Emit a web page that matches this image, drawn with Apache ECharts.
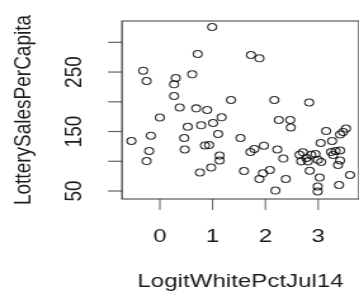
<!DOCTYPE html>
<html>
<head>
<meta charset="utf-8">
<script src="https://cdn.jsdelivr.net/npm/echarts@6/dist/echarts.min.js"></script>
<style>
  html, body { margin: 0; padding: 0; background: #fff; overflow: hidden; }
  /* the reference is an R plot stretched sideways, so the chart is drawn narrow and widened */
  #chart { width: 283px; height: 301px; transform: scaleX(1.26855); transform-origin: 0 0; }
</style>
</head>
<body>
<div id="chart"></div>
<script>
var logitWhite = [
  -0.315, -0.251, 0.302, 0.270, 0.613, 0.270, 0.717, 0.377, 0.689, 0.991,
  0.896, 1.349, 1.726, 1.887, 2.170, 2.830, 0.000, -0.538, -0.170, -0.202,
  -0.251, 0.528, 0.783, 1.009, 1.170, 0.462, 0.472, 0.855, 0.934, 1.104,
  1.132, 1.132, 0.972, 0.760, 1.528, 1.717, 1.792, 1.972, 2.226, 2.255,
  2.472, 2.481, 2.340, 1.594, 1.887, 1.953, 2.085, 2.189, 2.387, 2.647,
  2.711, 2.774, 2.868, 2.949, 2.679, 2.806, 2.994, 3.057, 2.840, 3.028,
  2.991, 2.991, 3.047, 3.264, 3.151, 3.528, 3.472, 3.415, 3.245, 3.330,
  3.415, 3.283, 3.415, 3.377, 3.396, 3.604
];
var salesPerCapita = [
  252.3, 234.9, 240.0, 229.4, 246.2, 209.7, 280.3, 190.4, 189.0, 325.7,
  186.2, 203.0, 278.6, 273.1, 203.0, 198.8, 173.6, 134.1, 143.0, 117.3,
  100.4, 158.1, 160.5, 164.3, 173.9, 139.1, 119.8, 126.5, 127.3, 145.8,
  109.7, 101.3, 89.5, 81.1, 139.1, 115.6, 120.6, 126.2, 119.8, 169.4,
  169.4, 156.8, 104.6, 83.6, 70.2, 79.8, 85.3, 50.8, 70.2, 111.0,
  115.1, 105.5, 111.0, 112.2, 99.9, 99.9, 102.6, 98.8, 84.1, 72.7,
  57.6, 49.2, 130.7, 134.1, 150.9, 155.1, 149.2, 145.0, 115.6, 117.3,
  118.1, 110.5, 101.3, 93.7, 60.1, 76.9
];
var xRange = [-0.717, 3.774];
var yRange = [36.6, 335.8];
var xTicks = [0, 1, 2, 3];
var yTicks = [50, 100, 150, 200, 250, 300];
var yLabels = [50, 150, 250];

var points = logitWhite.map(function(x, i) {
  return [x, salesPerCapita[i]];
});
// tick marks sit on the box edges, drawn as thin rects through the axes' own scales
var xTickMarks = xTicks.map(function(v) { return [v, yRange[0]]; });
var yTickMarks = yTicks.map(function(v) { return [xRange[0], v]; });

var ink = '#1c1c1c';
var edge = '#3a3a3a';
var font = 'Liberation Sans, Arial, sans-serif';
var tickLen = 11;

var chart = echarts.init(document.getElementById('chart'), null, { renderer: 'canvas' });
chart.setOption({
  backgroundColor: '#fff',
  animation: false,
  grid: {
    left: 96.17,
    right: -0.8,
    top: 21,
    bottom: 102,
    show: true,
    borderColor: edge,
    borderWidth: 1.2,
    backgroundColor: 'transparent'
  },
  xAxis: {
    type: 'value',
    min: xRange[0],
    max: xRange[1],
    name: 'LogitWhitePctJul14',
    nameLocation: 'middle',
    nameGap: 73,
    nameTextStyle: { color: ink, fontSize: 19, fontFamily: font },
    axisLine: { show: false, onZero: false },
    axisTick: { show: false },
    splitLine: { show: false },
    axisLabel: {
      customValues: xTicks,
      margin: 28,
      color: ink,
      fontSize: 19,
      fontFamily: font
    }
  },
  yAxis: {
    type: 'value',
    min: yRange[0],
    max: yRange[1],
    name: 'LotterySalesPerCapita',
    nameLocation: 'middle',
    nameGap: 68,
    nameRotate: 90,
    nameTextStyle: { color: ink, fontSize: 19, fontFamily: font },
    axisLine: { show: false, onZero: false },
    axisTick: { show: false },
    splitLine: { show: false },
    axisLabel: {
      customValues: yLabels,
      rotate: 90,
      margin: 28,
      color: ink,
      fontSize: 19,
      fontFamily: font
    }
  },
  series: [{
    type: 'scatter',
    data: points,
    symbol: 'circle',
    symbolSize: 7,
    itemStyle: {
      color: 'transparent',
      borderColor: '#000',
      borderWidth: 1.1
    }
  }, {
    type: 'scatter',
    data: xTickMarks,
    silent: true,
    clip: false,
    symbol: 'rect',
    symbolSize: [1, tickLen],
    symbolOffset: [0, tickLen / 2],
    itemStyle: { color: edge }
  }, {
    type: 'scatter',
    data: yTickMarks,
    silent: true,
    clip: false,
    symbol: 'rect',
    symbolSize: [tickLen, 1.2],
    symbolOffset: [-tickLen / 2, 0],
    itemStyle: { color: edge }
  }]
});
</script>
</body>
</html>
